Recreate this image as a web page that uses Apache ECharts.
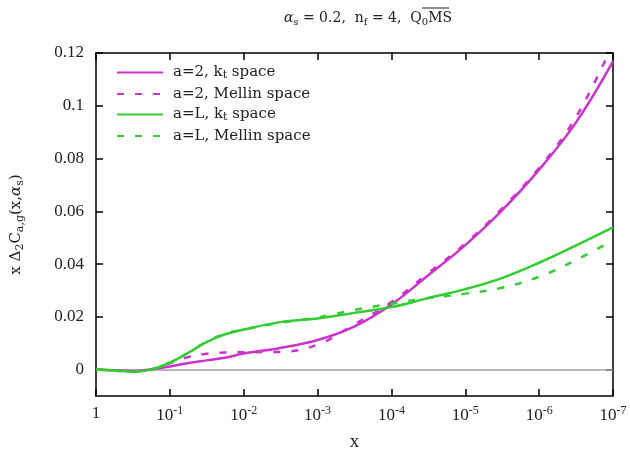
<!DOCTYPE html>
<html>
<head>
<meta charset="utf-8">
<script src="https://cdn.jsdelivr.net/npm/echarts@6/dist/echarts.min.js"></script>
<style>
  html, body { margin: 0; padding: 0; background: #fff; }
  #main { width: 630px; height: 453px; }
</style>
</head>
<body>
<div id="main"></div>
<script>
// x grid (1 .. 1e-7)
const xs = [1, 0.5, 0.3, 0.18, 0.1, 0.056, 0.032, 0.018, 0.01, 3.2e-3, 1e-3, 3.2e-4, 1e-4, 3.2e-5, 1e-5, 3.2e-6, 1e-6, 3.2e-7, 1e-7];

// x * Delta_2 C_{a,g}(x, alpha_s)
const a2Kt     = [0, -0.0003, -0.0005, 0.0001, 0.0012, 0.0025, 0.0035, 0.0045, 0.0061, 0.0082, 0.0112, 0.0163, 0.0247, 0.0357, 0.0472, 0.0603, 0.0758, 0.0935, 0.1168];
const a2Mellin = [0, -0.0003, -0.0006, 0.0000, 0.0025, 0.0048, 0.0060, 0.0065, 0.0066, 0.0067, 0.0095, 0.0171, 0.0256, 0.0365, 0.0478, 0.0610, 0.0765, 0.0955, 0.1235];
const aLKt     = [0, -0.0004, -0.0008, 0.0000, 0.0026, 0.0064, 0.0104, 0.0134, 0.0152, 0.0180, 0.0194, 0.0215, 0.0237, 0.0271, 0.0305, 0.0347, 0.0405, 0.0470, 0.0539];
const aLMellin = [0, -0.0005, -0.0009, 0.0000, 0.0026, 0.0065, 0.0105, 0.0136, 0.0152, 0.0177, 0.0198, 0.0226, 0.0250, 0.0271, 0.0288, 0.0310, 0.0352, 0.0415, 0.0490];

const yTicks = [0, 0.02, 0.04, 0.06, 0.08, 0.1, 0.12];

const seriesNames = ['a=2, k{sub|t} space', 'a=2, Mellin space', 'a=L, k{sub|t} space', 'a=L, Mellin space'];
const seriesData = [a2Kt, a2Mellin, aLKt, aLMellin];
const colors = ['#cc33cc', '#cc33cc', '#33cc33', '#33cc33'];
const dashed = [false, true, false, true];

const serif = 'Liberation Serif';
const wide = 'DejaVu Serif';
const txt = '#222';
const myChart = echarts.init(document.getElementById('main'));

const pairs = arr => xs.map((x, i) => [x, arr[i]]);

const series = seriesData.map((d, i) => ({
  name: seriesNames[i],
  type: 'line',
  smooth: 0.4,
  symbol: 'none',
  clip: true,
  z: 3 + i,
  lineStyle: {
    color: colors[i],
    width: 2.5,
    type: dashed[i] ? [7, 11] : 'solid',
  },
  itemStyle: { color: colors[i] },
  data: pairs(d),
}));

// y = 0 reference line
series[0].markLine = {
  silent: true,
  symbol: 'none',
  label: { show: false },
  lineStyle: { color: '#a0a0a0', width: 1.5, type: 'solid' },
  data: [{ yAxis: 0 }],
  z: 1,
};

const sub = { fontFamily: serif, fontSize: 12, verticalAlign: 'bottom', padding: [9, 0, 0, 0], color: txt };
const sup = { fontFamily: serif, fontSize: 12, verticalAlign: 'top', padding: [0, 0, 9, 0], color: txt };
const wsub = { fontFamily: wide, fontSize: 11, verticalAlign: 'bottom', padding: [8, 0, 0, 0], color: txt };
const wit = { fontFamily: wide, fontSize: 15, fontStyle: 'italic', color: txt };

const xAxisBase = {
  type: 'log',
  logBase: 10,
  min: 1e-7,
  max: 1,
  inverse: true,
  splitLine: { show: false },
  minorTick: { show: false },
  axisLine: { show: true, onZero: false, lineStyle: { color: '#000', width: 1.5 } },
  axisTick: { show: true, inside: true, length: 7, lineStyle: { color: '#000', width: 1.5 } },
};

const yAxisBase = {
  type: 'value',
  min: -0.01,
  max: 0.12,
  splitLine: { show: false },
  axisLine: { show: true, onZero: false, lineStyle: { color: '#000', width: 1.5 } },
  axisTick: { show: true, inside: true, length: 7, customValues: yTicks, lineStyle: { color: '#000', width: 1.5 } },
};

const option = {
  backgroundColor: '#fff',
  animation: false,
  title: {
    text: '{it|α}{sub|s} = 0.2,  n{sub|f} = 4,  Q{sub|0}MS',
    left: 363,
    textAlign: 'center',
    top: 5,
    textStyle: {
      fontFamily: wide,
      fontSize: 14,
      fontWeight: 'normal',
      color: txt,
      rich: {
        it: Object.assign({}, wit, { fontSize: 14 }),
        sub: Object.assign({}, wsub, { fontSize: 10, padding: [7, 0, 0, 0] }),
      },
    },
  },
  graphic: [
    // overline of MS-bar
    { type: 'line', shape: { x1: 422, y1: 8, x2: 449, y2: 8 }, style: { stroke: txt, lineWidth: 1 } },
  ],
  grid: { left: 96, right: 17, top: 53, bottom: 57, outerBoundsMode: 'none' },
  legend: {
    orient: 'vertical',
    left: 116,
    top: 65,
    padding: 0,
    itemWidth: 46,
    itemHeight: 14,
    itemGap: 5.5,
    itemStyle: { opacity: 0 },
    data: seriesNames,
    textStyle: {
      fontFamily: wide,
      fontSize: 15,
      color: txt,
      padding: [0, 0, 0, 5],
      rich: { sub: Object.assign({}, wsub, { padding: [6, 0, 0, 0] }) },
    },
  },
  xAxis: [
    Object.assign({}, xAxisBase, {
      position: 'bottom',
      name: 'x',
      nameLocation: 'middle',
      nameGap: 37,
      nameTextStyle: { fontFamily: serif, fontSize: 19, color: txt },
      axisLabel: {
        show: true,
        margin: 9,
        fontFamily: serif,
        fontSize: 17,
        color: txt,
        formatter: v => {
          const n = Math.round(-Math.log10(v));
          return n === 0 ? '1' : '10{sup|-' + n + '}';
        },
        rich: { sup },
      },
    }),
    Object.assign({}, xAxisBase, { position: 'top', axisLabel: { show: false } }),
  ],
  yAxis: [
    Object.assign({}, yAxisBase, {
      position: 'left',
      name: 'x Δ{sub|2}C{sub|a,g}(x,{it|α}{sub|s})',
      nameLocation: 'middle',
      nameRotate: 90,
      nameGap: 70,
      nameTextStyle: {
        fontFamily: wide,
        fontSize: 15,
        color: txt,
        rich: { sub: wsub, it: wit },
      },
      axisLabel: {
        margin: 12,
        fontFamily: serif,
        fontSize: 17,
        color: txt,
        customValues: yTicks,
        formatter: v => (Math.abs(v) < 1e-9 ? '0' : String(+v.toFixed(2))),
      },
    }),
    Object.assign({}, yAxisBase, { position: 'right', axisLabel: { show: false } }),
  ],
  series,
};

myChart.setOption(option);
window.onresize = () => {
  myChart.resize();
};
</script>
</body>
</html>
